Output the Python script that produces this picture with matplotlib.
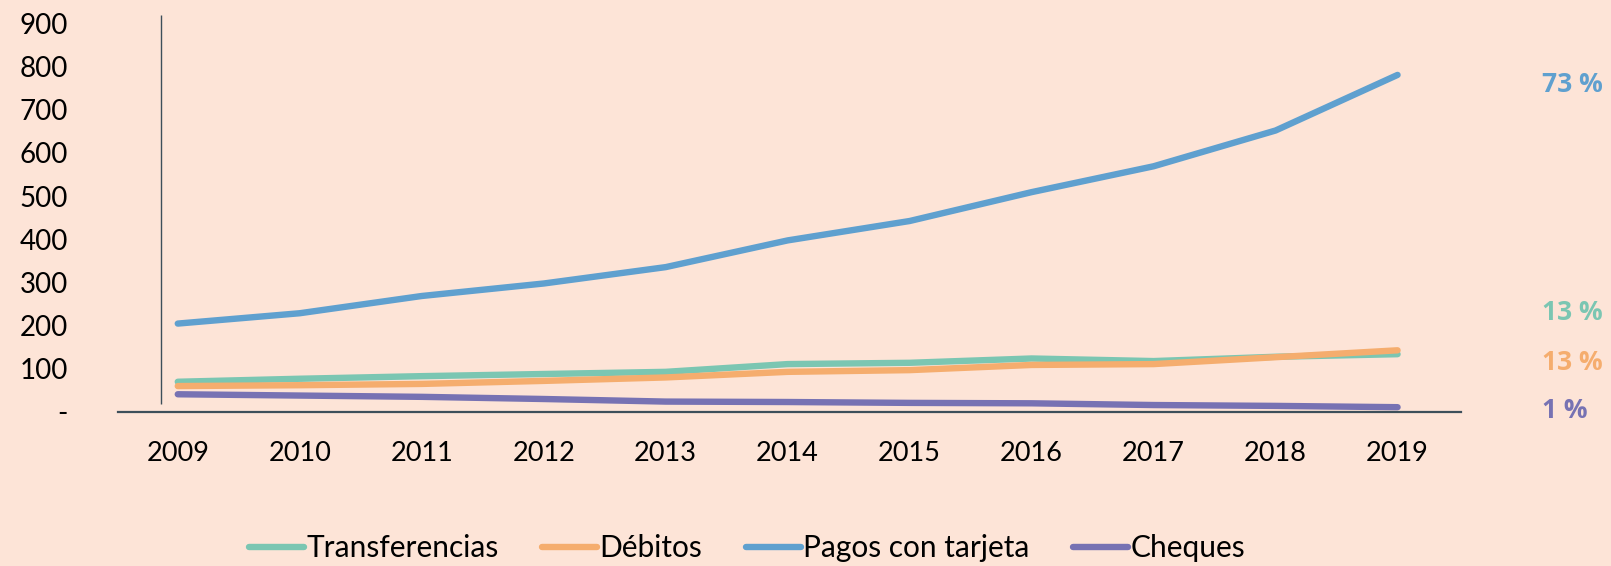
import numpy as np
import matplotlib
matplotlib.use('Agg')
import matplotlib.pyplot as plt

# values
years = [2009, 2010, 2011, 2012, 2013, 2014, 2015, 2016, 2017, 2018, 2019]
transferencias = [69, 76, 82, 87, 92, 110, 113, 123, 117, 127, 133]
debitos = [59, 61, 64, 71, 79, 92, 96, 108, 110, 126, 142]
pagos_tarjeta = [204, 228, 268, 297, 335, 397, 442, 509, 569, 652, 781]
cheques = [40, 37, 34, 29, 23, 22, 20, 19, 15, 13, 10]

names = ['Transferencias', 'Débitos', 'Pagos con tarjeta', 'Cheques']
shares = [13, 13, 73, 1]
colors = ['#7bc6b2', '#f5ad6e', '#5fa0cf', '#7772b3']
yticks = [0, 100, 200, 300, 400, 500, 600, 700, 800, 900]
ytick_labels = ['-', '100', '200', '300', '400', '500', '600', '700', '800', '900']

bg = '#fde4d7'
plt.rcParams['font.family'] = ['Lato', 'DejaVu Sans']

fig = plt.figure(figsize=(16.11, 5.66), dpi=100, facecolor=bg)
ax = fig.add_axes([118/1611, 154.5/566, 1343/1611, 396.5/566])
ax.set_facecolor(bg)

series = [transferencias, debitos, pagos_tarjeta, cheques]
for vals, name, c in zip(series, names, colors):
    ax.plot(years, vals, color=c, lw=4.6, solid_capstyle='round',
            solid_joinstyle='round', label=name)

ax.set_xlim(2008.51, 2019.52)
ax.set_ylim(0, 920)
ax.set_xticks(years)
ax.set_xticklabels([str(y) for y in years], fontsize=19.5)
ax.set_yticks(yticks)
ax.set_yticklabels(ytick_labels, fontsize=20)
ax.tick_params(axis='x', length=0, pad=21)
ax.tick_params(axis='y', length=0, pad=36)

for s in ['top', 'right', 'left']:
    ax.spines[s].set_visible(False)
ax.spines['bottom'].set_color('#3d4f5a')
ax.spines['bottom'].set_linewidth(1.6)
# vertical axis line, slightly inside the plot
ax.plot([2008.86, 2008.86], [17, 920], color='#3d4f5a', lw=1.0,
        clip_on=False, solid_capstyle='butt')

# shares at the right
label_y = {0: 312, 1: 362, 2: 85, 3: 410}
for i, (sh, c) in enumerate(zip(shares, colors)):
    fig.text(1542/1611, 1 - label_y[i]/566, f'{sh} %', color=c,
             fontsize=19, fontweight='bold', family=['Open Sans', 'DejaVu Sans'],
             ha='left', va='center')

fig.legend(loc='center', bbox_to_anchor=(747/1611, 18/566), ncol=4,
           frameon=False, fontsize=21.5, handlelength=1.85, handletextpad=0.08,
           columnspacing=1.45)

fig.savefig('out.png', dpi=100, facecolor=bg)
